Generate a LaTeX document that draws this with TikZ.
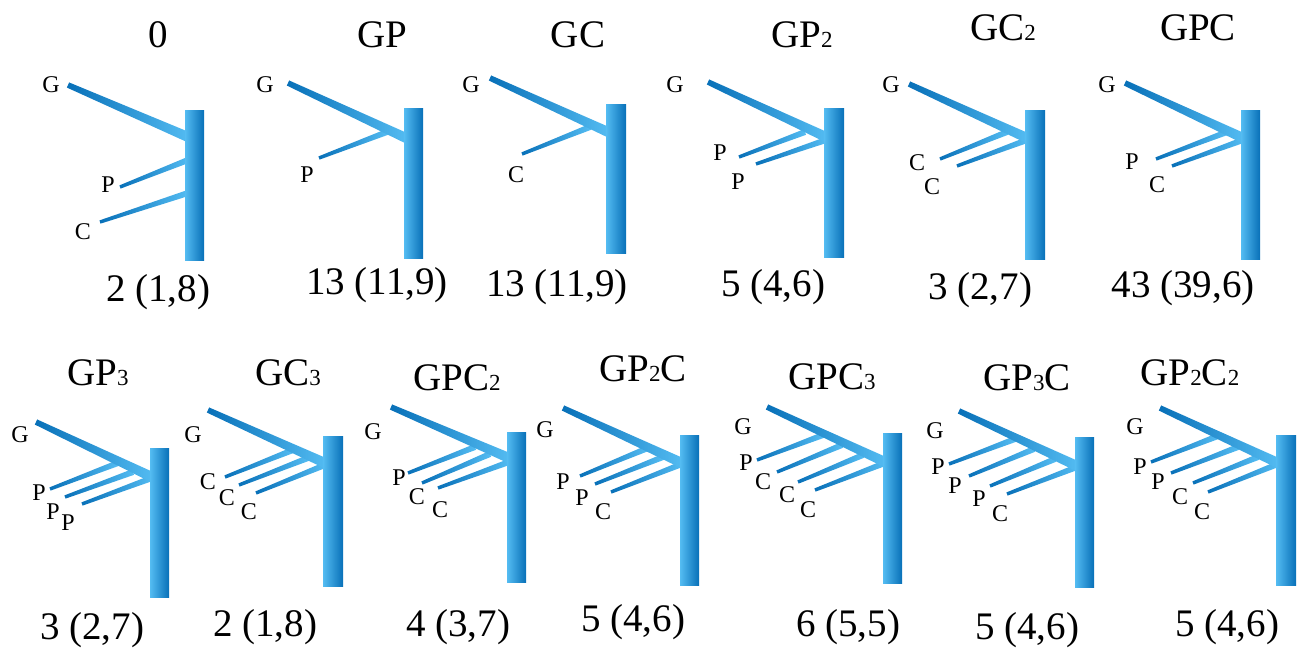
\documentclass[tikz,border=0pt]{standalone}
\usepackage{fontspec}
\setmainfont{Liberation Serif}
\usepackage{tikz}
\usetikzlibrary{calc}
\definecolor{stemDark}{RGB}{8,112,184}
\definecolor{stemLight}{RGB}{84,188,242}
% small digit in the titles
\newcommand{\tsub}[1]{{\fontsize{23}{23}\selectfont #1}}
% tapered links: main G link and side links
\newcommand{\glink}[2]{\shade[twig] ($#1!2.8pt!90:#2$) -- ($#2!5pt!-90:#1$) -- ($#2!5pt!90:#1$) -- ($#1!2.8pt!-90:#2$) -- cycle;}
\newcommand{\slink}[2]{\shade[twig] ($#1!1.7pt!90:#2$) -- ($#2!3pt!-90:#1$) -- ($#2!3pt!90:#1$) -- ($#1!1.7pt!-90:#2$) -- cycle;}
\begin{document}
\begin{tikzpicture}[x=1pt, y=-1pt,
    twig/.style={left color=stemDark, right color=stemLight},
    bar/.style={left color=stemLight, right color=stemDark},
    ttl/.style={inner sep=0, font=\fontsize{39}{40}\selectfont},
    cnt/.style={inner sep=0, font=\fontsize{39}{40}\selectfont},
    lbl/.style={inner sep=0, font=\fontsize{24}{24}\selectfont}
  ]
    \useasboundingbox (0,0) rectangle (1302,654);
    % ---- top row ----
    % 0
    \node[ttl] (t1) at (158,35) {0};
    \slink{(120,187)}{(188,160)}
    \slink{(100,222)}{(188,193)}
    \glink{(68,85)}{(188,137)}
    \shade[bar] (185,110) rectangle (204,260);
    \node[lbl] (g1) at (51,85) {G};
    \node[lbl] (p1) at (108,185) {P};
    \node[lbl] (c1) at (83,232) {C};
    \node[cnt] (n1) at (158,292) {2 (1,8)};
    % GP
    \node[ttl] (t2) at (382,35) {GP};
    \slink{(319,158)}{(387,132)}
    \glink{(288,83)}{(406,138)}
    \shade[bar] (404,108) rectangle (423,258);
    \node[lbl] (g2) at (265,85) {G};
    \node[lbl] (p2) at (307,175) {P};
    \node[cnt] (n2) at (377,285) {13 (11,9)};
    % GC
    \node[ttl] (t3) at (578,35) {GC};
    \slink{(522,154)}{(590,127)}
    \glink{(490,78)}{(608,132)}
    \shade[bar] (606,104) rectangle (626,253);
    \node[lbl] (g3) at (471,85) {G};
    \node[lbl] (c3) at (516,175) {C};
    \node[cnt] (n3) at (557,287) {13 (11,9)};
    % GP2
    \node[ttl] (t4) at (802,35) {GP\tsub{2}};
    \slink{(739,157)}{(805,132)}
    \slink{(756,164)}{(826,140)}
    \glink{(708,82)}{(826,137)}
    \shade[bar] (824,108) rectangle (844,257);
    \node[lbl] (g4) at (675,85) {G};
    \node[lbl] (p4a) at (720,153) {P};
    \node[lbl] (p4b) at (738,182) {P};
    \node[cnt] (n4) at (773,287) {5 (4,6)};
    % GC2
    \node[ttl] (t5) at (1003,28) {GC\tsub{2}};
    \slink{(940,159)}{(1007,132)}
    \slink{(957,166)}{(1027,140)}
    \glink{(909,84)}{(1027,138)}
    \shade[bar] (1025,110) rectangle (1045,259);
    \node[lbl] (g5) at (891,85) {G};
    \node[lbl] (c5a) at (917,163) {C};
    \node[lbl] (c5b) at (932,187) {C};
    \node[cnt] (n5) at (980,290) {3 (2,7)};
    % GPC
    \node[ttl] (t6) at (1198,28) {GPC};
    \slink{(1156,159)}{(1227,132)}
    \slink{(1172,166)}{(1243,140)}
    \glink{(1125,83)}{(1243,138)}
    \shade[bar] (1241,110) rectangle (1260,259);
    \node[lbl] (g6) at (1107,85) {G};
    \node[lbl] (p6) at (1132,162) {P};
    \node[lbl] (c6) at (1157,185) {C};
    \node[cnt] (n6) at (1183,288) {43 (39,6)};
    % ---- bottom row ----
    % GP3
    \node[ttl] (t7) at (98,373) {GP\tsub{3}};
    \slink{(50,489)}{(118,463)}
    \slink{(65,497)}{(133,472)}
    \slink{(82,504)}{(152,478)}
    \glink{(36,422)}{(152,477)}
    \shade[bar] (150,448) rectangle (169,597);
    \node[lbl] (g7) at (20,435) {G};
    \node[lbl] (p7a) at (39,493) {P};
    \node[lbl] (p7b) at (53,512) {P};
    \node[lbl] (p7c) at (68,523) {P};
    \node[cnt] (n7) at (92,630) {3 (2,7)};
    % GC3
    \node[ttl] (t8) at (288,373) {GC\tsub{3}};
    \slink{(225,477)}{(293,450)}
    \slink{(239,485)}{(308,458)}
    \slink{(256,493)}{(325,465)}
    \glink{(208,410)}{(325,463)}
    \shade[bar] (323,436) rectangle (343,586);
    \node[lbl] (g8) at (193,435) {G};
    \node[lbl] (c8a) at (208,482) {C};
    \node[lbl] (c8b) at (227,498) {C};
    \node[lbl] (c8c) at (249,512) {C};
    \node[cnt] (n8) at (265,627) {2 (1,8)};
    % GPC2
    \node[ttl] (t9) at (457,378) {GPC\tsub{2}};
    \slink{(408,473)}{(475,447)}
    \slink{(422,483)}{(490,454)}
    \slink{(438,488)}{(509,462)}
    \glink{(391,407)}{(509,458)}
    \shade[bar] (507,432) rectangle (526,582);
    \node[lbl] (g9) at (373,432) {G};
    \node[lbl] (p9) at (399,478) {P};
    \node[lbl] (c9a) at (417,497) {C};
    \node[lbl] (c9b) at (440,510) {C};
    \node[cnt] (n9) at (458,627) {4 (3,7)};
    % GP2C
    \node[ttl] (t10) at (643,369) {GP\tsub{2}C};
    \slink{(580,476)}{(648,448)}
    \slink{(595,484)}{(663,457)}
    \slink{(611,492)}{(682,464)}
    \glink{(563,408)}{(682,463)}
    \shade[bar] (680,435) rectangle (699,585);
    \node[lbl] (g10) at (545,430) {G};
    \node[lbl] (p10a) at (563,482) {P};
    \node[lbl] (p10b) at (582,498) {P};
    \node[lbl] (c10) at (603,512) {C};
    \node[cnt] (n10) at (633,622) {5 (4,6)};
    % GPC3
    \node[ttl] (t11) at (832,377) {GPC\tsub{3}};
    \slink{(757,460)}{(823,435)}
    \slink{(777,472)}{(842,445)}
    \slink{(798,482)}{(863,455)}
    \slink{(815,490)}{(885,463)}
    \glink{(767,407)}{(885,462)}
    \shade[bar] (883,433) rectangle (902,583);
    \node[lbl] (g11) at (743,427) {G};
    \node[lbl] (p11) at (746,463) {P};
    \node[lbl] (c11a) at (763,482) {C};
    \node[lbl] (c11b) at (787,495) {C};
    \node[lbl] (c11c) at (808,510) {C};
    \node[cnt] (n11) at (848,627) {6 (5,5)};
    % GP3C
    \node[ttl] (t12) at (1027,378) {GP\tsub{3}C};
    \slink{(949,464)}{(1015,439)}
    \slink{(969,476)}{(1034,449)}
    \slink{(990,486)}{(1055,459)}
    \slink{(1007,494)}{(1077,467)}
    \glink{(959,411)}{(1077,466)}
    \shade[bar] (1075,437) rectangle (1094,587);
    \node[lbl] (g12) at (935,431) {G};
    \node[lbl] (p12a) at (938,467) {P};
    \node[lbl] (p12b) at (955,486) {P};
    \node[lbl] (p12c) at (979,499) {P};
    \node[lbl] (c12) at (1000,514) {C};
    \node[cnt] (n12) at (1027,630) {5 (4,6)};
    % GP2C2
    \node[ttl] (t13) at (1190,373) {GP\tsub{2}C\tsub{2}};
    \slink{(1151,462)}{(1218,436)}
    \slink{(1171,473)}{(1238,447)}
    \slink{(1193,483)}{(1258,457)}
    \slink{(1208,492)}{(1278,464)}
    \glink{(1160,408)}{(1278,463)}
    \shade[bar] (1276,435) rectangle (1296,585);
    \node[lbl] (g13) at (1135,427) {G};
    \node[lbl] (p13a) at (1140,467) {P};
    \node[lbl] (p13b) at (1158,482) {P};
    \node[lbl] (c13a) at (1180,497) {C};
    \node[lbl] (c13b) at (1202,512) {C};
    \node[cnt] (n13) at (1227,627) {5 (4,6)};
\end{tikzpicture}
\end{document}
